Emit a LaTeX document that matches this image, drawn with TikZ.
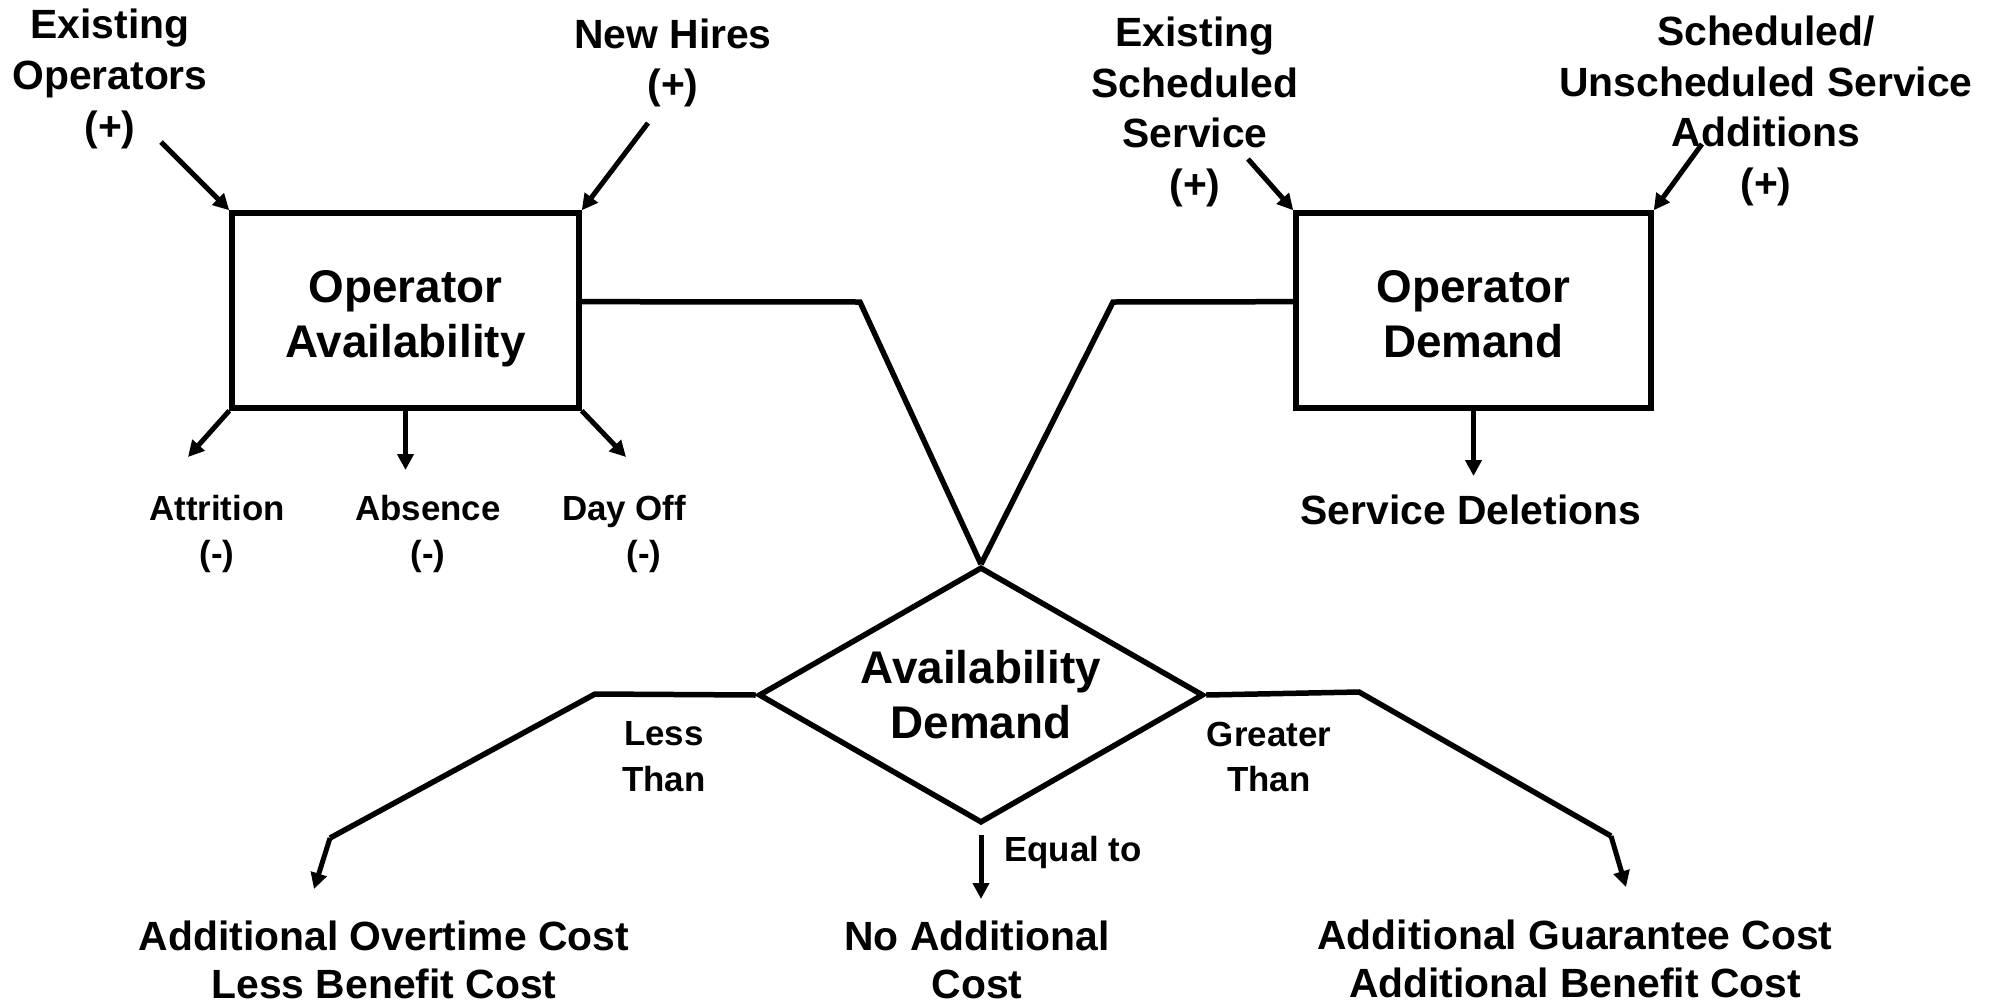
\documentclass[tikz,border=0pt]{standalone}
\usepackage{fontspec}
\setmainfont{Liberation Sans}
\usetikzlibrary{shapes.geometric,arrows.meta,calc}
\begin{document}
\begin{tikzpicture}[x=1bp,y=-1bp,
  big/.style={font=\fontsize{46}{55}\selectfont\bfseries, align=center, inner sep=0},
  med/.style={font=\fontsize{41}{51}\selectfont\bfseries, align=center, inner sep=0},
  low/.style={font=\fontsize{41}{48}\selectfont\bfseries, align=center, inner sep=0},
  small/.style={font=\fontsize{35}{46}\selectfont\bfseries, align=center, inner sep=0},
  boxnode/.style={draw, line width=5.5bp, inner sep=0},
  arr/.style={line width=5bp, -{Triangle[length=16bp,width=16bp]}},
  link/.style={line width=5.5bp, line join=miter}]
\useasboundingbox (0,0) rectangle (1992,1005);

% boxes
\node[boxnode, minimum width=347bp, minimum height=195bp] (oa) at (405.5,310.5) {};
\node[big] (oaT) at (405.5,318.5) {Operator\\Availability};
\node[boxnode, minimum width=355bp, minimum height=195bp] (od) at (1473.5,310.5) {};
\node[big] (odT) at (1473.5,314.5) {Operator\\Demand};
\node[big, draw, diamond, line width=5.5bp, inner sep=0, aspect=1.74, minimum width=445bp, minimum height=256bp] (ad) at (981,695) {Availability\\Demand};

% text labels
\node[med] (eo) at (110,79) {Existing\\Operators\\(+)};
\node[med] (nh) at (673,63) {New Hires\\(+)};
\node[med] (es) at (1195,112) {Existing\\Scheduled\\Service\\(+)};
\node[med] (su) at (1766,111) {Scheduled/\\Unscheduled Service\\Additions\\(+)};
\node[small] (at) at (217,534) {Attrition\\(-)};
\node[small] (ab) at (428,534) {Absence\\(-)};
\node[small] (do) at (624,534) {Day Off\\\hspace*{40bp}(-)};
\node[med] (sd) at (1471,510) {Service Deletions};
\node[small] (lt) at (664,757) {Less\\Than};
\node[small] (gt) at (1269,757) {Greater\\Than};
\node[small] (eq) at (1073,852) {Equal to};
\node[low] (c1) at (384,960) {Additional Overtime Cost\\Less Benefit Cost};
\node[low] (c2) at (977,960) {No Additional\\Cost};
\node[low] (c3) at (1575,959) {Additional Guarantee Cost\\Additional Benefit Cost};

% coordinates
\coordinate (eoS) at (161,142);
\coordinate (nhS) at (648,123);
\coordinate (atE) at (188,457);
\coordinate (abE) at (405.5,470);
\coordinate (doE) at (626,457);
\coordinate (lk1) at (860,302);
\coordinate (rk1) at (1113,302);
\coordinate (esS) at (1248,159);
\coordinate (suS) at (1702,144);
\coordinate (sdE) at (1473.5,476);
\coordinate (l1) at (595,694);
\coordinate (l2) at (330,838);
\coordinate (l3) at (314,889);
\coordinate (r1) at (1359,692);
\coordinate (r2) at (1611,836);
\coordinate (r3) at (1626,887);
\coordinate (eqE) at (981,899);

% connectors
\draw[arr] (eoS) -- (oa.north west);
\draw[arr] (nhS) -- (oa.north east);
\draw[arr] (oa.south west) -- (atE);
\draw[arr] (oa.south) -- (abE);
\draw[arr] (oa.south east) -- (doE);
\draw[link] ($(oa.north east)!0.456!(oa.south east)$) -- (lk1) -- (ad.north);
\draw[link] ($(od.north west)!0.456!(od.south west)$) -- (rk1) -- (ad.north);
\draw[arr] (esS) -- (od.north west);
\draw[arr] (suS) -- (od.north east);
\draw[arr] (od.south) -- (sdE);
\draw[link] (ad.west) -- (l1) -- (l2);
\draw[arr] (l2) -- (l3);
\draw[link] (ad.east) -- (r1) -- (r2);
\draw[arr] (r2) -- (r3);
\draw[arr, shorten <=9bp] (ad.south) -- (eqE);
\end{tikzpicture}
\end{document}
